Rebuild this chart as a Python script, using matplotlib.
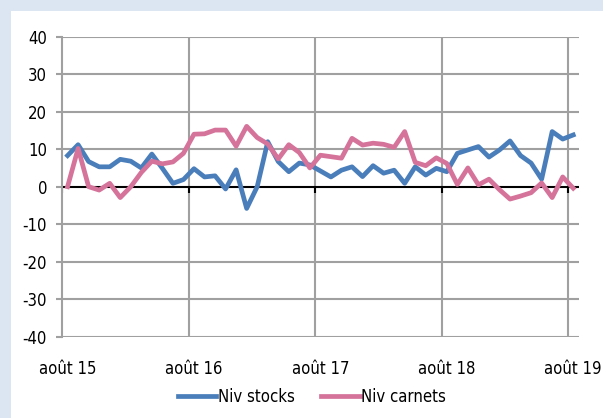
import numpy as np
import matplotlib.pyplot as plt
from matplotlib.patches import Rectangle

# monthly series, août 15 .. août 19
months = ['août 15', 'août 16', 'août 17', 'août 18', 'août 19']
niv_stocks = [8.3, 11.2, 6.7, 5.3, 5.3, 7.3, 6.8, 5.0, 8.7, 4.9,
              0.9, 1.9, 4.8, 2.6, 2.9, -0.6, 4.5, -5.8, 0.0, 12.0,
              6.7, 4.0, 6.3, 5.8, 4.2, 2.6, 4.4, 5.3, 2.7, 5.6,
              3.6, 4.4, 0.9, 5.3, 3.1, 4.9, 4.0, 8.9, 9.8, 10.7,
              7.9, 9.8, 12.2, 8.3, 6.3, 2.0, 14.7, 12.7, 13.8]
niv_carnets = [0.0, 10.2, 0.0, -0.9, 0.9, -2.9, 0.0, 3.8, 6.8, 6.1,
               6.6, 8.9, 14.0, 14.1, 15.1, 15.1, 10.8, 16.1, 13.1, 11.4,
               7.4, 11.2, 9.1, 5.0, 8.4, 8.0, 7.6, 12.9, 11.1, 11.6,
               11.3, 10.5, 14.7, 6.5, 5.6, 7.7, 6.2, 0.6, 5.0, 0.5,
               2.0, -0.8, -3.3, -2.5, -1.6, 1.0, -2.9, 2.6, -0.4]

blue = '#4a7ebb'
pink = '#d5739a'
grid_c = '#a0a0a0'
font = {'family': 'DejaVu Sans', 'stretch': 'condensed', 'size': 12}

fig = plt.figure(figsize=(6.03, 4.18), dpi=100)
fig.patch.set_facecolor('#dce6f2')
# white panel of the chart area
fig.patches.append(Rectangle((11 / 603, 0), 1, 1 - 11 / 418, transform=fig.transFigure,
                             facecolor='white', edgecolor='none', zorder=-10))

ax = fig.add_axes([62.3 / 603, 1 - 336.7 / 418, (578.5 - 62.3) / 603, 300 / 418])
ax.set_facecolor('none')

x = np.arange(len(niv_stocks))
ax.set_xlim(-0.5, len(x) - 0.5)
ax.set_ylim(-40, 40)

# grid
for v in range(-40, 41, 10):
    if v != 0:
        ax.axhline(v, color=grid_c, lw=1.5, zorder=1)
bounds = np.arange(11.5, len(x), 12)
for b in bounds:
    ax.axvline(b, color=grid_c, lw=1.5, zorder=1)
ax.axhline(0, color='black', lw=1.5, zorder=2)
ax.vlines(np.r_[-0.5, bounds], -1.6, 0, color='black', lw=1.5, zorder=2)

ax.plot(x, niv_stocks, color=blue, lw=3.4, solid_joinstyle='round', zorder=3, label='Niv stocks')
ax.plot(x, niv_carnets, color=pink, lw=3.4, solid_joinstyle='round', zorder=3, label='Niv carnets')

for s in ['top', 'right', 'bottom']:
    ax.spines[s].set_visible(False)
ax.spines['left'].set_color(grid_c)
ax.spines['left'].set_linewidth(1.5)

ax.set_yticks(range(-40, 41, 10))
ax.set_yticklabels([str(v) for v in range(-40, 41, 10)], fontdict=font)
ax.tick_params(axis='y', length=4, width=1.5, color=grid_c, pad=7)
ax.set_xticks(np.arange(0, len(x), 12))
ax.set_xticklabels(months, fontdict=font)
ax.tick_params(axis='x', length=0, pad=17)

leg = fig.legend(loc='center', bbox_to_anchor=(312 / 603, 1 - 397 / 418), ncol=2, frameon=False,
                 prop=font, handlelength=2.3, handletextpad=0.1, columnspacing=1.6)

fig.savefig('out.png', dpi=100)
